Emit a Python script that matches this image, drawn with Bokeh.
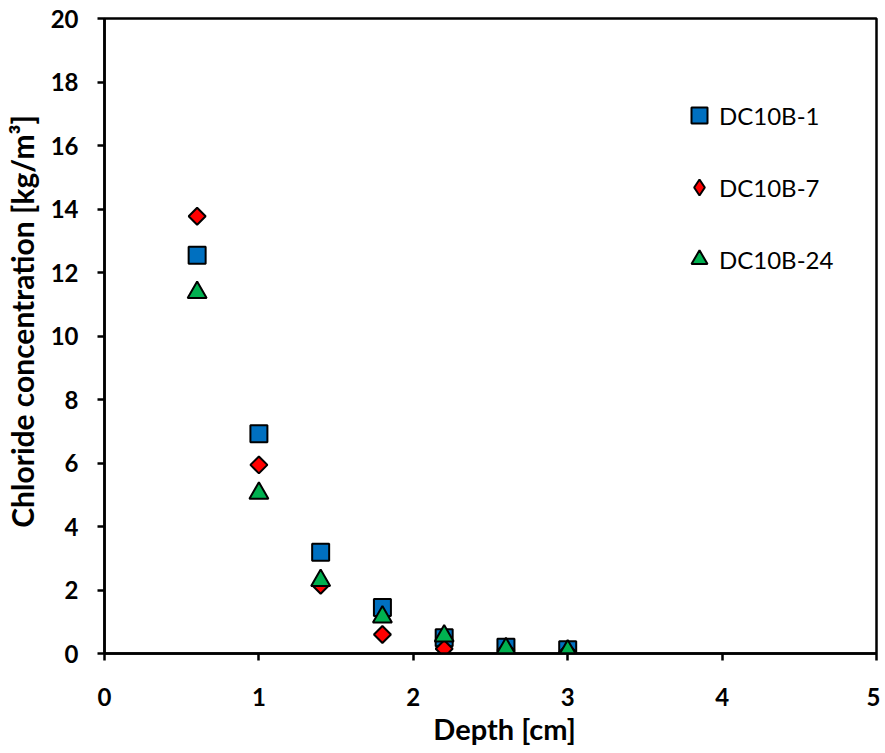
import math
from bokeh.plotting import figure
from bokeh.models import Legend, LegendItem, Range1d, FixedTicker
from bokeh.embed import file_html
from bokeh.resources import INLINE

depth = [0.6, 1.0, 1.4, 1.8, 2.2, 2.6, 3.0]
dc10b_1 = [12.54, 6.92, 3.19, 1.45, 0.50, 0.20, 0.12]
dc10b_7 = [13.77, 5.94, 2.15, 0.60, 0.15, 0.10, 0.05]
dc10b_24 = [11.37, 5.05, 2.30, 1.15, 0.55, 0.15, 0.08]

x_ticks = [0, 1, 2, 3, 4, 5]
y_ticks = [0, 2, 4, 6, 8, 10, 12, 14, 16, 18, 20]

FONT = "Lato"
NB = "\u00a0"

p = figure(frame_width=772, frame_height=635, output_backend="svg",
           toolbar_location=None, x_range=Range1d(0, 5), y_range=Range1d(0, 20),
           min_border_left=103, min_border_top=18, min_border_right=4, min_border_bottom=10)
p.outline_line_color = "black"
p.outline_line_width = 2.5
p.xgrid.visible = False
p.ygrid.visible = False

for ax in (p.xaxis[0], p.yaxis[0]):
    ax.axis_line_width = 2.5
    ax.major_tick_line_width = 2.5
    ax.major_tick_out = 7
    ax.major_tick_in = 0
    ax.minor_tick_out = 0
    ax.minor_tick_in = 0
    ax.major_label_text_font = FONT
    ax.major_label_text_font_style = "bold"
    ax.major_label_text_font_size = "24px"
    ax.major_label_text_color = "black"
    ax.axis_label_text_font = FONT
    ax.axis_label_text_font_style = "bold"
    ax.axis_label_text_color = "black"

p.xaxis.axis_label_text_font_size = "29px"
p.yaxis.axis_label_text_font_size = "30px"
p.xaxis.ticker = FixedTicker(ticks=x_ticks)
p.yaxis.ticker = FixedTicker(ticks=y_ticks)
p.xaxis.major_label_standoff = 27
p.yaxis.major_label_standoff = 19
p.xaxis.axis_label = NB * 4 + "Depth [cm]"
p.yaxis.axis_label = NB * 4 + "Chloride concentration [kg/m³]"
p.xaxis.axis_label_standoff = 2
p.yaxis.axis_label_standoff = 8

r1 = p.scatter(depth, dc10b_1, marker="square", size=17, fill_color="#0070C0",
               line_color="black", line_width=2)
r2 = p.scatter(depth, dc10b_7, marker="square", angle=math.pi / 4, size=12,
               fill_color="#FF0000", line_color="black", line_width=2)
r3 = p.scatter(depth, dc10b_24, marker="triangle", size=19, fill_color="#00B050",
               line_color="black", line_width=2)
# hidden twin of the diamond series, only used for its legend swatch
r2_key = p.scatter(depth, dc10b_7, marker="diamond", size=17,
                   fill_color="#FF0000", line_color="black", line_width=2,
                   visible=False)

legend = Legend(items=[LegendItem(label="DC10B-1", renderers=[r1]),
                       LegendItem(label="DC10B-7", renderers=[r2_key]),
                       LegendItem(label="DC10B-24", renderers=[r3])],
                location=(575, 374), orientation="vertical",
                label_text_font=FONT, label_text_font_size="24px",
                label_text_color="black",
                glyph_width=40, glyph_height=40, label_height=40,
                label_standoff=-7, spacing=32, padding=0, margin=0,
                inactive_fill_alpha=0,
                border_line_color=None, background_fill_alpha=0)
p.add_layout(legend)

open("out.html", "w").write(file_html(p, INLINE))
